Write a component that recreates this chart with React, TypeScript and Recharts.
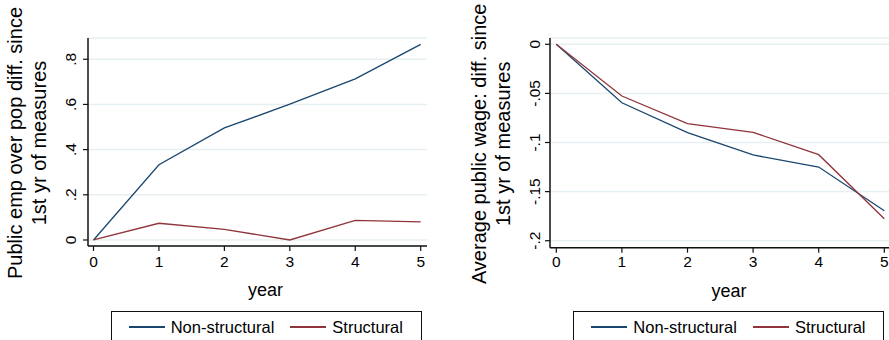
import { LineChart, Line, XAxis, YAxis, CartesianGrid, Legend, Label } from "recharts";

const years = [0, 1, 2, 3, 4, 5];

// left panel: public employment over population
const empNonStructural = [0, 0.333, 0.496, 0.601, 0.713, 0.866];
const empStructural = [0, 0.074, 0.047, 0.0, 0.087, 0.08];
const empTicks = [0, 0.2, 0.4, 0.6, 0.8];

// right panel: average public wage
const wageNonStructural = [0, -0.0595, -0.09, -0.1127, -0.125, -0.1694];
const wageStructural = [0, -0.0527, -0.0808, -0.0896, -0.1124, -0.1776];
const wageTicks = [-0.2, -0.15, -0.1, -0.05, 0];

const seriesNames = ["Non-structural", "Structural"];

const BLUE = "#1a476f";
const RED = "#90353b";
const GRID = "#e6eff1";
const FONT = "'Liberation Sans', Arial, sans-serif";

const empData = years.map((y, i) => ({ year: y, nonStructural: empNonStructural[i], structural: empStructural[i] }));
const wageData = years.map((y, i) => ({ year: y, nonStructural: wageNonStructural[i], structural: wageStructural[i] }));

// stata style: ".2", "-.05"
const fmt = (v: number) => (v === 0 ? "0" : String(v).replace("0.", "."));

const RotatedTick = (props: any) => {
  const { x, y, payload } = props;
  return (
    <text
      transform={`translate(${x}, ${y}) rotate(-90)`}
      textAnchor="middle"
      dy="0.36em"
      fontSize={15.5}
      fontFamily={FONT}
      fill="#000"
    >
      {fmt(payload.value)}
    </text>
  );
};

const yTitle = (lines: string[], x1: number, x2: number) => (props: any) => {
  const vb = props.viewBox;
  const cy = vb.y + vb.height / 2 + 1;
  return (
    <g fontSize={20} fontFamily={FONT} fill="#000">
      <text transform={`translate(${x1}, ${cy}) rotate(-90)`} textAnchor="middle">
        {lines[0]}
      </text>
      <text transform={`translate(${x2}, ${cy}) rotate(-90)`} textAnchor="middle">
        {lines[1]}
      </text>
    </g>
  );
};

const xTitle = (dx: number) => (props: any) => {
  const vb = props.viewBox;
  return (
    <text
      x={vb.x + vb.width / 2 + dx}
      y={vb.y + 49.5}
      textAnchor="middle"
      fontSize={18}
      fontFamily={FONT}
      fill="#000"
    >
      year
    </text>
  );
};

const LegendBox = () => (
  <div
    style={{
      boxSizing: "border-box",
      width: 311,
      height: 45,
      border: "1.5px solid #111",
      background: "#fff",
      display: "flex",
      alignItems: "center",
      paddingLeft: 17,
      paddingBottom: 12,
      fontFamily: FONT,
      fontSize: 16.5,
      color: "#000",
    }}
  >
    {seriesNames.map((name, i) => (
      <span key={name} style={{ display: "flex", alignItems: "center", marginRight: 16 }}>
        <span style={{ width: 36, height: 1.4, background: i === 0 ? BLUE : RED, marginRight: 6 }} />
        {name}
      </span>
    ))}
  </div>
);

interface PanelProps {
  data: any[];
  ticks: number[];
  domain: [number, number];
  yWidth: number;
  rightMargin: number;
  bottomMargin: number;
  xPad: { left: number; right: number };
  yTickMargin: number;
  xTickMargin: number;
  titleLines: string[];
  titleX: [number, number];
  xLabelDx: number;
  legendLeft: number;
}

function Panel(p: PanelProps) {
  return (
    <LineChart
      width={p.rightMargin === 0 ? 445 : 444}
      height={340}
      data={p.data}
      margin={{ top: 38, right: p.rightMargin, bottom: p.bottomMargin, left: 0 }}
    >
      <CartesianGrid vertical={false} stroke={GRID} strokeWidth={1.5} />
      <XAxis
        dataKey="year"
        type="number"
        domain={[0, 5]}
        ticks={years}
        padding={p.xPad}
        height={30}
        tickSize={5}
        tickMargin={p.xTickMargin}
        axisLine={{ stroke: "#111", strokeWidth: 1.5 }}
        tickLine={{ stroke: "#111", strokeWidth: 1.2 }}
        tick={{ fill: "#000", fontSize: 15.5, fontFamily: FONT }}
      >
        <Label content={xTitle(p.xLabelDx)} />
      </XAxis>
      <YAxis
        type="number"
        domain={p.domain}
        ticks={p.ticks}
        width={p.yWidth}
        tickSize={5}
        tickMargin={p.yTickMargin}
        axisLine={{ stroke: "#111", strokeWidth: 1.5 }}
        tickLine={{ stroke: "#111", strokeWidth: 1.2 }}
        tick={<RotatedTick />}
        interval={0}
      >
        <Label content={yTitle(p.titleLines, p.titleX[0], p.titleX[1])} />
      </YAxis>
      <Legend
        layout="horizontal"
        verticalAlign="middle"
        content={<LegendBox />}
        wrapperStyle={{ left: p.legendLeft, top: 310.7, width: 311, height: 45 }}
      />
      <Line dataKey="nonStructural" name={seriesNames[0]} stroke={BLUE} strokeWidth={1.3} dot={false} isAnimationActive={false} />
      <Line dataKey="structural" name={seriesNames[1]} stroke={RED} strokeWidth={1.3} dot={false} isAnimationActive={false} />
    </LineChart>
  );
}

export default function App() {
  return (
    <div style={{ position: "absolute", left: 0, top: 0, width: 889, height: 340, background: "#fff", display: "flex", overflow: "hidden" }}>
      <Panel
        data={empData}
        ticks={empTicks}
        domain={[-0.0266, 0.894]}
        yWidth={88}
        rightMargin={17}
        bottomMargin={64}
        xPad={{ left: 5.5, right: 6.3 }}
        yTickMargin={12.3}
        xTickMargin={5}
        titleLines={["Public emp over pop diff. since", "1st yr of measures"]}
        titleX={[22, 46]}
        xLabelDx={8}
        legendLeft={110.7}
      />
      <Panel
        data={wageData}
        ticks={wageTicks}
        domain={[-0.2071, 0.0064]}
        yWidth={106}
        rightMargin={0}
        bottomMargin={62.3}
        xPad={{ left: 6.3, right: 4.7 }}
        yTickMargin={11}
        xTickMargin={3.5}
        titleLines={["Average public wage: diff. since", "1st yr of measures"]}
        titleX={[42, 65.5]}
        xLabelDx={9.5}
        legendLeft={129.3}
      />
    </div>
  );
}
